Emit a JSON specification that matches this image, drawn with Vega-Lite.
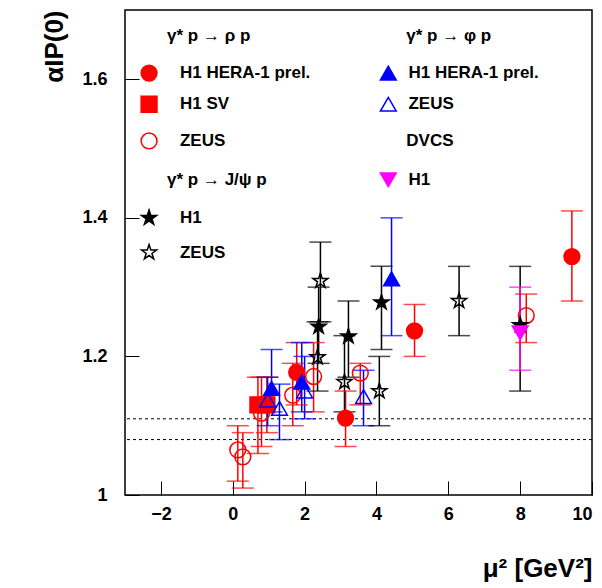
{
  "$schema": "https://vega.github.io/schema/vega-lite/v6.json",
  "width": 467,
  "height": 485,
  "autosize": "none",
  "padding": {"left": 125, "top": 10, "right": 10, "bottom": 93},
  "background": "white",
  "config": {
    "view": {"stroke": "black", "strokeWidth": 1.5},
    "font": "Liberation Sans",
    "axis": {"grid": false, "domain": false, "tickColor": "black", "labelFont": "Liberation Sans", "labelFontWeight": "bold", "labelFontSize": 18, "labelColor": "black", "titleFont": "Liberation Sans", "titleFontWeight": "bold", "titleFontSize": 26, "titleColor": "black"}
  },
  "datasets": {
    "pts": [
      {"s": "rhoH1", "x": 1.78, "y": 1.177, "lo": 1.13, "hi": 1.22},
      {"s": "rhoH1", "x": 3.14, "y": 1.111, "lo": 1.07, "hi": 1.15},
      {"s": "rhoH1", "x": 5.06, "y": 1.237, "lo": 1.2, "hi": 1.275},
      {"s": "rhoH1", "x": 9.44, "y": 1.344, "lo": 1.28, "hi": 1.41},
      {"s": "rhoSV", "x": 0.7, "y": 1.13, "lo": 1.06, "hi": 1.17},
      {"s": "rhoSV", "x": 0.95, "y": 1.13, "lo": 1.09, "hi": 1.17},
      {"s": "rhoZ", "x": 0.14, "y": 1.065, "lo": 1.02, "hi": 1.1},
      {"s": "rhoZ", "x": 0.28, "y": 1.055, "lo": 1.01, "hi": 1.09},
      {"s": "rhoZ", "x": 0.8, "y": 1.118, "lo": 1.07, "hi": 1.17},
      {"s": "rhoZ", "x": 1.67, "y": 1.144, "lo": 1.1, "hi": 1.19},
      {"s": "rhoZ", "x": 2.25, "y": 1.171, "lo": 1.12, "hi": 1.22},
      {"s": "rhoZ", "x": 3.55, "y": 1.176, "lo": 1.13, "hi": 1.19},
      {"s": "rhoZ", "x": 8.17, "y": 1.259, "lo": 1.22, "hi": 1.29},
      {"s": "phiH1", "x": 1.08, "y": 1.154, "lo": 1.12, "hi": 1.21},
      {"s": "phiH1", "x": 1.92, "y": 1.163, "lo": 1.12, "hi": 1.22},
      {"s": "phiH1", "x": 4.42, "y": 1.312, "lo": 1.23, "hi": 1.4},
      {"s": "phiZ", "x": 0.97, "y": 1.137, "lo": 1.1, "hi": 1.17},
      {"s": "phiZ", "x": 1.3, "y": 1.125, "lo": 1.08, "hi": 1.16},
      {"s": "phiZ", "x": 2.0, "y": 1.15, "lo": 1.11, "hi": 1.2},
      {"s": "phiZ", "x": 3.64, "y": 1.142, "lo": 1.1, "hi": 1.18},
      {"s": "jpH1", "x": 2.39, "y": 1.243, "lo": 1.19, "hi": 1.3},
      {"s": "jpH1", "x": 3.22, "y": 1.229, "lo": 1.17, "hi": 1.28},
      {"s": "jpH1", "x": 4.14, "y": 1.278, "lo": 1.21, "hi": 1.33},
      {"s": "jpH1", "x": 8.0, "y": 1.245, "lo": 1.15, "hi": 1.33},
      {"s": "jpZ", "x": 2.44, "y": 1.309, "lo": 1.25, "hi": 1.365},
      {"s": "jpZ", "x": 2.36, "y": 1.199, "lo": 1.15, "hi": 1.25},
      {"s": "jpZ", "x": 3.11, "y": 1.163, "lo": 1.12, "hi": 1.23},
      {"s": "jpZ", "x": 4.08, "y": 1.15, "lo": 1.1, "hi": 1.2},
      {"s": "jpZ", "x": 6.3, "y": 1.28, "lo": 1.23, "hi": 1.33},
      {"s": "dvcs", "x": 8.0, "y": 1.234, "lo": 1.18, "hi": 1.3}
    ],
    "leg": [
      {"s": "rhoH1", "x": -2.33, "y": 1.609, "tx": -1.47, "label": "H1 HERA-1 prel."},
      {"s": "rhoSV", "x": -2.33, "y": 1.564, "tx": -1.47, "label": "H1 SV"},
      {"s": "rhoZ", "x": -2.33, "y": 1.511, "tx": -1.47, "label": "ZEUS"},
      {"s": "jpH1", "x": -2.33, "y": 1.4, "tx": -1.47, "label": "H1"},
      {"s": "jpZ", "x": -2.33, "y": 1.35, "tx": -1.47, "label": "ZEUS"},
      {"s": "phiH1", "x": 4.33, "y": 1.609, "tx": 4.89, "label": "H1 HERA-1 prel."},
      {"s": "phiZ", "x": 4.33, "y": 1.564, "tx": 4.89, "label": "ZEUS"},
      {"s": "dvcs", "x": 4.33, "y": 1.455, "tx": 4.89, "label": "H1"}
    ],
    "heads": [
      {"x": -1.83, "y": 1.663, "label": "γ* p → ρ p"},
      {"x": -1.83, "y": 1.455, "label": "γ* p → J/ψ p"},
      {"x": 4.83, "y": 1.663, "label": "γ* p → φ p"},
      {"x": 4.83, "y": 1.511, "label": "DVCS"}
    ],
    "lines": [{"y": 1.08}, {"y": 1.11}]
  },
  "layer": [
    {
      "data": {"name": "lines"},
      "mark": {"type": "rule", "strokeDash": [3, 3], "color": "black"},
      "encoding": {"y": {"field": "y", "type": "quantitative"}}
    },
    {
      "data": {"name": "pts"},
      "mark": {"type": "rule", "strokeWidth": 1.5},
      "encoding": {
        "x": {"field": "x", "type": "quantitative", "scale": {"domain": [-3, 10], "nice": false},
          "axis": {"values": [-2, 0, 2, 4, 6, 8, 10], "tickSize": -14, "labelPadding": 24, "title": "μ² [GeV²]", "titleAnchor": "end", "titlePadding": 32}},
        "y": {"field": "lo", "type": "quantitative", "scale": {"domain": [1, 1.7], "nice": false, "zero": false},
          "axis": {"values": [1, 1.2, 1.4, 1.6], "format": ".1~f", "tickSize": -14, "labelPadding": 32, "title": "αIP(0)", "titleAnchor": "end", "titlePadding": 14}},
        "y2": {"field": "hi"},
        "color": {"field": "s", "type": "nominal", "legend": null,
          "scale": {"domain": ["rhoH1", "rhoSV", "rhoZ", "phiH1", "phiZ", "jpH1", "jpZ", "dvcs"], "range": ["red", "red", "red", "blue", "blue", "black", "black", "magenta"]}}
      }
    },
    {
      "data": {"name": "pts"},
      "mark": {"type": "tick", "orient": "horizontal", "size": 22, "thickness": 1.5},
      "encoding": {
        "x": {"field": "x", "type": "quantitative"},
        "y": {"field": "lo", "type": "quantitative"},
        "color": {"field": "s", "type": "nominal", "legend": null}
      }
    },
    {
      "data": {"name": "pts"},
      "mark": {"type": "tick", "orient": "horizontal", "size": 22, "thickness": 1.5},
      "encoding": {
        "x": {"field": "x", "type": "quantitative"},
        "y": {"field": "hi", "type": "quantitative"},
        "color": {"field": "s", "type": "nominal", "legend": null}
      }
    },
    {
      "data": {"name": "pts"},
      "mark": {"type": "point", "size": 250, "strokeWidth": 1.5, "opacity": 1},
      "encoding": {
        "x": {"field": "x", "type": "quantitative"},
        "y": {"field": "y", "type": "quantitative"},
        "stroke": {"field": "s", "type": "nominal", "legend": null,
          "scale": {"domain": ["rhoH1", "rhoSV", "rhoZ", "phiH1", "phiZ", "jpH1", "jpZ", "dvcs"], "range": ["red", "red", "red", "blue", "blue", "black", "black", "magenta"]}},
        "fill": {"field": "s", "type": "nominal", "legend": null,
          "scale": {"domain": ["rhoH1", "rhoSV", "rhoZ", "phiH1", "phiZ", "jpH1", "jpZ", "dvcs"], "range": ["red", "red", "transparent", "blue", "transparent", "black", "transparent", "magenta"]}},
        "shape": {"field": "s", "type": "nominal", "legend": null,
          "scale": {"domain": ["rhoH1", "rhoSV", "rhoZ", "phiH1", "phiZ", "jpH1", "jpZ", "dvcs"], "range": ["circle", "square", "circle", "triangle-up", "triangle-up", "M0,-1L0.2245,-0.309L0.951,-0.309L0.363,0.118L0.588,0.809L0,0.382L-0.588,0.809L-0.363,0.118L-0.951,-0.309L-0.2245,-0.309Z", "M0,-1L0.2245,-0.309L0.951,-0.309L0.363,0.118L0.588,0.809L0,0.382L-0.588,0.809L-0.363,0.118L-0.951,-0.309L-0.2245,-0.309Z", "triangle-down"]}}
      }
    },
    {
      "data": {"name": "leg"},
      "mark": {"type": "point", "size": 250, "strokeWidth": 1.5, "opacity": 1},
      "encoding": {
        "x": {"field": "x", "type": "quantitative"},
        "y": {"field": "y", "type": "quantitative"},
        "stroke": {"field": "s", "type": "nominal", "legend": null},
        "fill": {"field": "s", "type": "nominal", "legend": null},
        "shape": {"field": "s", "type": "nominal", "legend": null}
      }
    },
    {
      "data": {"name": "leg"},
      "mark": {"type": "text", "align": "left", "baseline": "middle", "fontSize": 17, "fontWeight": "bold", "color": "black"},
      "encoding": {
        "x": {"field": "tx", "type": "quantitative"},
        "y": {"field": "y", "type": "quantitative"},
        "text": {"field": "label"}
      }
    },
    {
      "data": {"name": "heads"},
      "mark": {"type": "text", "align": "left", "baseline": "middle", "fontSize": 17, "fontWeight": "bold", "color": "black"},
      "encoding": {
        "x": {"field": "x", "type": "quantitative"},
        "y": {"field": "y", "type": "quantitative"},
        "text": {"field": "label"}
      }
    }
  ]
}
